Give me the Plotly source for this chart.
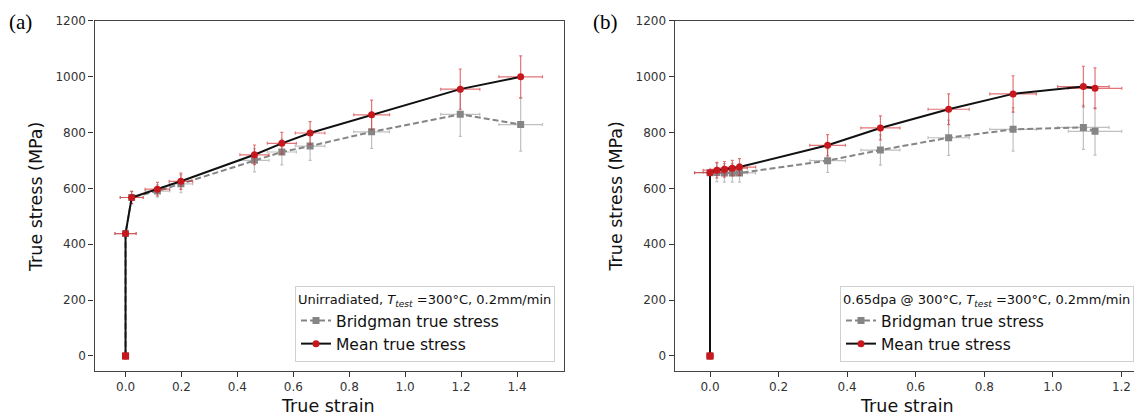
import plotly.graph_objects as go

# ---------------- Panel (a): Unirradiated ----------------
a_strain = [0.0, 0.0, 0.022, 0.114, 0.198, 0.461, 0.559, 0.660, 0.880, 1.197, 1.413]
a_strain_err = [0.0, 0.038, 0.041, 0.044, 0.042, 0.052, 0.052, 0.053, 0.064, 0.070, 0.078]
a_mean = [0, 438, 567, 597, 625, 720, 761, 798, 863, 955, 999]
a_mean_err = [0, 0, 22, 24, 29, 35, 39, 41, 53, 72, 75]
a_bridg = [0, 438, 567, 590, 616, 700, 730, 751, 802, 865, 828]
a_bridg_err = [0, 0, 22, 22, 32, 41, 46, 51, 59, 79, 95]

# ---------------- Panel (b): 0.65 dpa ----------------
b_strain = [0.0, 0.0, 0.020, 0.042, 0.065, 0.086, 0.343, 0.497, 0.696, 0.884, 1.089, 1.123]
b_strain_err = [0.0, 0.045, 0.040, 0.042, 0.044, 0.047, 0.052, 0.057, 0.060, 0.068, 0.075, 0.078]
b_mean = [0, 656, 665, 668, 672, 676, 754, 816, 883, 938, 964, 958]
b_mean_err = [0, 0, 28, 28, 28, 30, 38, 43, 55, 65, 73, 73]
b_bridg = [0, 656, 657, 655, 655, 655, 699, 737, 781, 811, 818, 804]
b_bridg_err = [0, 0, 33, 33, 33, 33, 42, 54, 63, 78, 79, 85]

y_ticks = [0, 200, 400, 600, 800, 1000, 1200]
a_x_ticks = [0.0, 0.2, 0.4, 0.6, 0.8, 1.0, 1.2, 1.4]
b_x_ticks = [0.0, 0.2, 0.4, 0.6, 0.8, 1.0, 1.2]

legend_titles = [
    "Unirradiated, <i>T</i><sub><i>test</i></sub> =300°C, 0.2mm/min",
    "0.65dpa @ 300°C, <i>T</i><sub><i>test</i></sub> =300°C, 0.2mm/min",
]
x_title = "True strain"
y_title = "True stress (MPa)"

RED = "#c8171d"
RED_ERR = "rgba(214,40,45,0.65)"
GRAY = "#858585"
GRAY_ERR = "rgba(150,150,150,0.6)"
FONT = "DejaVu Sans"

# page has an 8px body margin: figure sized to fill the rest of the window
OFF = 8
W, H = 1142 - OFF, 420 - OFF


def px(xw):   # window x -> paper fraction
    return (xw - OFF) / W


def py(yw):   # window y (from top) -> paper fraction (from bottom)
    return (H - (yw - OFF)) / H


fig = go.Figure()


def add_panel(strain, serr, bridg, berr, mean, merr, xa, ya, leg):
    fig.add_trace(go.Scatter(
        x=strain, y=bridg, xaxis=xa, yaxis=ya, legend=leg,
        name="Bridgman true stress", mode="lines+markers",
        line=dict(color=GRAY, width=2, dash="6px,3px"),
        marker=dict(symbol="square", size=7, color=GRAY),
        error_y=dict(type="data", array=berr, color=GRAY_ERR, thickness=1.2, width=1.5),
        error_x=dict(type="data", array=serr, color=GRAY_ERR, thickness=1.2, width=1.5),
    ))
    fig.add_trace(go.Scatter(
        x=strain, y=mean, xaxis=xa, yaxis=ya, legend=leg,
        name="Mean true stress", mode="lines+markers",
        line=dict(color="#111111", width=2),
        marker=dict(symbol="circle", size=7, color=RED),
        error_y=dict(type="data", array=merr, color=RED_ERR, thickness=1.2, width=1.5),
        error_x=dict(type="data", array=serr, color=RED_ERR, thickness=1.2, width=1.5),
    ))
    # origin drawn as a red square
    fig.add_trace(go.Scatter(
        x=strain[:1], y=mean[:1], xaxis=xa, yaxis=ya, legend=leg,
        mode="markers", showlegend=False, hoverinfo="skip",
        marker=dict(symbol="square", size=7, color=RED),
    ))


add_panel(a_strain, a_strain_err, a_bridg, a_bridg_err, a_mean, a_mean_err, "x", "y", "legend")
add_panel(b_strain, b_strain_err, b_bridg, b_bridg_err, b_mean, b_mean_err, "x2", "y2", "legend2")

ydom = [py(370.7), py(20.7)]

axis_common = dict(
    showgrid=False, zeroline=False, showline=True, mirror=True,
    linecolor="#444444", linewidth=1.3, ticks="outside", ticklen=5,
    tickwidth=1, tickcolor="#333333", automargin=False,
    tickfont=dict(family=FONT, size=12, color="#333333"),
)

legend_common = dict(
    xanchor="right", y=py(362), yanchor="bottom",
    bgcolor="rgba(255,255,255,0.85)", bordercolor="#d0d0d0", borderwidth=1,
    font=dict(family=FONT, size=15.5, color="#111111"),
    tracegroupgap=0,
)

fig.update_layout(
    width=W, height=H,
    margin=dict(l=0, r=0, t=0, b=0, autoexpand=False),
    paper_bgcolor="white", plot_bgcolor="white",
    xaxis=dict(domain=[px(94.5), px(564)], range=[-0.111, 1.568], anchor="y",
               tickvals=a_x_ticks, ticktext=[f"{v:.1f}" for v in a_x_ticks], **axis_common),
    yaxis=dict(domain=ydom, range=[-53, 1200], anchor="x", tickvals=y_ticks, **axis_common),
    xaxis2=dict(domain=[px(674.7), 1.0], range=[-0.103, 1.26], anchor="y2",
                tickvals=b_x_ticks, ticktext=[f"{v:.1f}" for v in b_x_ticks], **axis_common),
    yaxis2=dict(domain=ydom, range=[-53, 1200], anchor="x2", tickvals=y_ticks, **axis_common),
    legend=dict(x=px(555),
                title=dict(text=legend_titles[0], font=dict(family=FONT, size=13, color="#111111")),
                **legend_common),
    legend2=dict(x=px(1134),
                 title=dict(text=legend_titles[1], font=dict(family=FONT, size=13, color="#111111")),
                 **legend_common),
    showlegend=True,
)

title_font = dict(family=FONT, size=17.5, color="#111111")
for xc in [328, 907]:
    fig.add_annotation(text=x_title, x=px(xc), y=py(406), xref="paper", yref="paper",
                       xanchor="center", yanchor="middle", showarrow=False, font=title_font)
for xc in [36, 615.5]:
    fig.add_annotation(text=y_title, x=px(xc), y=py(197), xref="paper", yref="paper",
                       xanchor="center", yanchor="middle", showarrow=False, textangle=-90,
                       font=title_font)

for xl, lbl in [(8, "(a)"), (592, "(b)")]:
    fig.add_annotation(text=lbl, x=px(xl), y=1.0, xref="paper", yref="paper",
                       xanchor="left", yanchor="top", yshift=-1, showarrow=False,
                       borderpad=0,
                       font=dict(family="Liberation Serif", size=21, color="black"))

fig.write_html("out.html")
